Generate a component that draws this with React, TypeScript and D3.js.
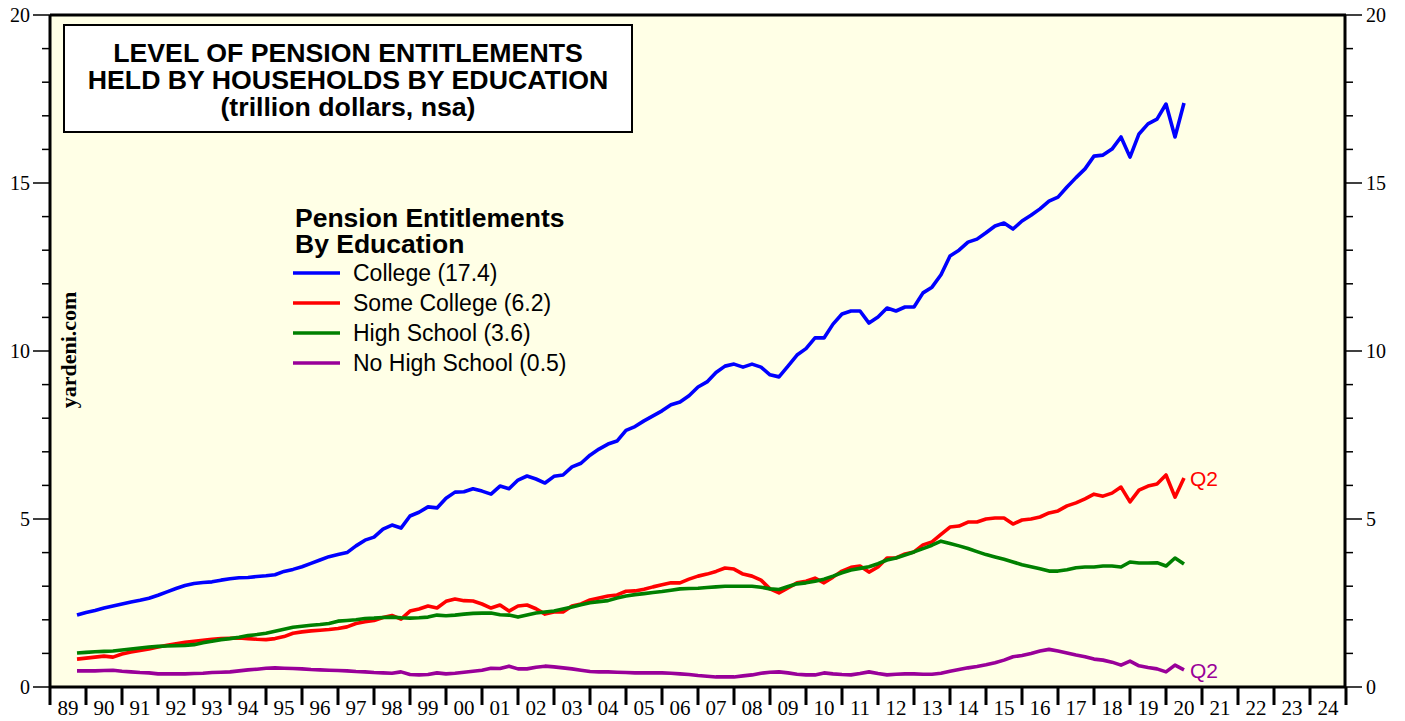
import React from "react";
import * as d3 from "d3";

const START_YEAR = 1989.75; // 1989 Q3 (end of quarter)
const college = [
  2.14, 2.22, 2.28, 2.35, 2.41, 2.47, 2.53, 2.58, 2.64, 2.73, 2.83, 2.93, 3.02, 3.08, 3.11, 3.13,
  3.18, 3.22, 3.25, 3.26, 3.29, 3.31, 3.34, 3.44, 3.5, 3.58, 3.68, 3.78, 3.88, 3.94, 4.0, 4.2,
  4.37, 4.46, 4.7, 4.82, 4.73, 5.09, 5.2, 5.36, 5.33, 5.62, 5.8, 5.81, 5.9, 5.83, 5.74, 5.98,
  5.9, 6.16, 6.28, 6.19, 6.07, 6.27, 6.31, 6.55, 6.66, 6.9, 7.08, 7.23, 7.32, 7.64, 7.75, 7.92,
  8.07, 8.22, 8.4, 8.48, 8.67, 8.93, 9.08, 9.36, 9.55, 9.61, 9.52, 9.61, 9.52, 9.29, 9.23, 9.55,
  9.88, 10.07, 10.39, 10.39, 10.8, 11.1, 11.19, 11.19, 10.83, 11.01, 11.28, 11.19, 11.31, 11.31, 11.73, 11.9,
  12.27, 12.83, 13.0, 13.24, 13.33, 13.52, 13.72, 13.81, 13.63, 13.87, 14.04, 14.23, 14.46, 14.58, 14.88, 15.16,
  15.42, 15.8, 15.83, 16.01, 16.37, 15.77, 16.46, 16.76, 16.9, 17.35, 16.37, 17.38,
];
const someCollege = [
  0.83, 0.86, 0.89, 0.92, 0.89, 0.98, 1.04, 1.09, 1.13, 1.19, 1.24, 1.29, 1.33, 1.36, 1.39, 1.42,
  1.44, 1.45, 1.46, 1.44, 1.42, 1.41, 1.44, 1.5, 1.6, 1.64, 1.67, 1.69, 1.71, 1.74, 1.79, 1.89,
  1.94, 1.98, 2.07, 2.13, 2.02, 2.26, 2.32, 2.41, 2.35, 2.55, 2.62, 2.57, 2.56, 2.47, 2.35, 2.44,
  2.26, 2.41, 2.44, 2.33, 2.17, 2.23, 2.23, 2.41, 2.47, 2.59, 2.65, 2.71, 2.74, 2.85, 2.86, 2.91,
  2.98, 3.04, 3.1, 3.1, 3.21, 3.3, 3.36, 3.44, 3.54, 3.51, 3.36, 3.3, 3.18, 2.92, 2.8, 2.95,
  3.1, 3.15, 3.24, 3.1, 3.27, 3.45, 3.56, 3.6, 3.42, 3.57, 3.84, 3.84, 3.96, 4.02, 4.23, 4.32,
  4.54, 4.76, 4.79, 4.91, 4.91, 5.0, 5.03, 5.03, 4.85, 4.97, 5.0, 5.06, 5.18, 5.24, 5.39, 5.48,
  5.6, 5.74, 5.68, 5.77, 5.95, 5.51, 5.86, 5.98, 6.04, 6.31, 5.65, 6.22,
];
const highSchool = [
  1.01, 1.03, 1.05, 1.06, 1.07, 1.1, 1.13, 1.16, 1.19, 1.21, 1.22, 1.23, 1.24, 1.26, 1.32, 1.36,
  1.41, 1.44, 1.48, 1.53, 1.56, 1.6, 1.66, 1.72, 1.78, 1.81, 1.84, 1.86, 1.89, 1.96, 1.98, 2.0,
  2.04, 2.05, 2.07, 2.08, 2.06, 2.05, 2.06, 2.08, 2.14, 2.12, 2.14, 2.17, 2.19, 2.2, 2.2, 2.15,
  2.14, 2.08, 2.14, 2.2, 2.23, 2.26, 2.32, 2.38, 2.45, 2.51, 2.54, 2.57, 2.65, 2.71, 2.75, 2.78,
  2.81, 2.84, 2.88, 2.92, 2.93, 2.94, 2.96, 2.98, 3.0, 3.0, 3.0, 3.0, 2.97, 2.92, 2.9, 2.99,
  3.07, 3.1, 3.15, 3.21, 3.3, 3.4, 3.48, 3.53, 3.58, 3.67, 3.78, 3.84, 3.93, 4.02, 4.12, 4.22,
  4.34, 4.27, 4.2, 4.12, 4.03, 3.94, 3.87, 3.8, 3.72, 3.64, 3.58, 3.52, 3.45, 3.45, 3.49, 3.55,
  3.57, 3.57, 3.6, 3.6, 3.57, 3.72, 3.69, 3.69, 3.7, 3.6, 3.84, 3.66,
];
const noHighSchool = [
  0.48, 0.48, 0.48, 0.49, 0.5, 0.47, 0.45, 0.43, 0.42, 0.39, 0.39, 0.39, 0.39, 0.4, 0.41, 0.43,
  0.44, 0.45, 0.48, 0.51, 0.53, 0.56, 0.57, 0.56, 0.55, 0.54, 0.52, 0.51, 0.5, 0.49, 0.48, 0.46,
  0.45, 0.43, 0.42, 0.41, 0.45, 0.37, 0.36, 0.37, 0.42, 0.39, 0.41, 0.44, 0.47, 0.5, 0.56, 0.55,
  0.62, 0.54, 0.54, 0.59, 0.62, 0.6, 0.57, 0.54, 0.5, 0.46, 0.45, 0.45, 0.44, 0.43, 0.42, 0.42,
  0.42, 0.42, 0.41, 0.39, 0.37, 0.34, 0.32, 0.3, 0.3, 0.3, 0.33, 0.36, 0.41, 0.44, 0.45, 0.42,
  0.38, 0.36, 0.36, 0.42, 0.39, 0.37, 0.36, 0.4, 0.45, 0.4, 0.36, 0.38, 0.39, 0.39, 0.38, 0.38,
  0.41, 0.47, 0.52, 0.57, 0.61, 0.66, 0.72, 0.8, 0.9, 0.94, 1.0, 1.07, 1.12, 1.07, 1.01, 0.95,
  0.9, 0.83, 0.8, 0.74, 0.65, 0.77, 0.63, 0.58, 0.54, 0.45, 0.65, 0.51,
];

const yearLabels = ["89","90","91","92","93","94","95","96","97","98","99","00","01","02","03","04","05","06","07","08","09","10","11","12","13","14","15","16","17","18","19","20","21","22","23","24"];
const yTicks = [0, 5, 10, 15, 20];
const seriesNames = ["College (17.4)", "Some College (6.2)", "High School (3.6)", "No High School (0.5)"];
const seriesColors = ["#0000ff", "#ff0000", "#008000", "#990099"];
const titleLines = ["LEVEL OF PENSION ENTITLEMENTS", "HELD BY HOUSEHOLDS BY EDUCATION", "(trillion dollars, nsa)"];
const legendTitle = ["Pension Entitlements", "By Education"];

const W = 1405, H = 721;
const L = 50, R = 1346, T = 15, B = 687;

export default function App() {
  const x = d3.scaleLinear().domain([1989, 2025]).range([L, R]);
  const y = d3.scaleLinear().domain([0, 20]).range([B, T]);
  const series = [college, someCollege, highSchool, noHighSchool];
  const line = d3
    .line<number>()
    .x((_, i) => x(START_YEAR + i * 0.25))
    .y((v) => y(v));
  const minor = d3.range(0, 21, 1);
  const years = d3.range(1989, 2026);
  const sans = "Liberation Sans, Arial, sans-serif";
  const serif = "Liberation Serif, Times New Roman, serif";

  const lastX = x(START_YEAR + (college.length - 1) * 0.25);

  return (
    <svg width={W} height={H} style={{ position: "absolute", left: 0, top: 0, background: "#fff" }}>
      <rect x={L} y={T} width={R - L} height={B - T} fill="#ffffe6" />

      {series.map((s, k) => (
        <path key={k} d={line(s) || ""} fill="none" stroke={seriesColors[k]} strokeWidth={3.6} strokeLinejoin="round" />
      ))}

      <line x1={L} x2={R} y1={T} y2={T} stroke="#000" strokeWidth={3} />
      <line x1={L} x2={R} y1={B} y2={B} stroke="#000" strokeWidth={3} />
      <line x1={L} x2={L} y1={T} y2={B} stroke="#000" strokeWidth={3} />
      <line x1={R - 1} x2={R - 1} y1={T} y2={B} stroke="#000" strokeWidth={3} />

      {minor.map((v) => (
        <g key={"m" + v}>
          <line x1={L - (v % 5 === 0 ? 17 : 8)} x2={L} y1={y(v)} y2={y(v)} stroke="#000" strokeWidth={1.5} />
          <line x1={R - 1} x2={R - 1 + (v % 5 === 0 ? 17 : 8)} y1={y(v)} y2={y(v)} stroke="#000" strokeWidth={1.5} />
        </g>
      ))}
      {yTicks.map((v) => (
        <g key={"t" + v} fontFamily={serif} fontSize={20} fill="#000">
          <text x={30} y={y(v) + 7} textAnchor="end">{v}</text>
          <text x={1366} y={y(v) + 7} textAnchor="start">{v}</text>
        </g>
      ))}

      {years.map((yr) => (
        <line key={"x" + yr} x1={x(yr)} x2={x(yr)} y1={B} y2={B + 18} stroke="#000" strokeWidth={3} />
      ))}
      {yearLabels.map((lab, i) => (
        <text key={"xl" + i} x={x(1989 + i + 0.5)} y={715} textAnchor="middle" fontFamily={serif} fontSize={21} fill="#000">
          {lab}
        </text>
      ))}

      <rect x={64} y={25} width={568} height={107} fill="#fff" stroke="#000" strokeWidth={2} />
      {titleLines.map((t, i) => (
        <text key={"tt" + i} x={348} y={62 + i * 27} textAnchor="middle" fontFamily={sans} fontWeight="bold" fontSize={26.7} fill="#000">
          {t}
        </text>
      ))}

      {legendTitle.map((t, i) => (
        <text key={"lt" + i} x={295} y={227 + i * 26} fontFamily={sans} fontWeight="bold" fontSize={26.5} fill="#000">
          {t}
        </text>
      ))}
      {seriesNames.map((n, i) => {
        const yy = 273 + i * 30;
        return (
          <g key={"lg" + i}>
            <line x1={293} x2={340} y1={yy} y2={yy} stroke={seriesColors[i]} strokeWidth={3.6} />
            <text x={353} y={yy + 8} fontFamily={sans} fontSize={23} fill="#000">
              {n}
            </text>
          </g>
        );
      })}

      <text
        transform="translate(76,350) rotate(-90)"
        textAnchor="middle"
        fontFamily={serif}
        fontWeight="bold"
        fontSize={22}
        fill="#000"
      >
        yardeni.com
      </text>

      <text x={lastX + 6} y={y(someCollege[someCollege.length - 1]) + 8} fontFamily={sans} fontSize={21} fill="#ff0000">
        Q2
      </text>
      <text x={lastX + 6} y={y(noHighSchool[noHighSchool.length - 1]) + 8} fontFamily={sans} fontSize={21} fill="#990099">
        Q2
      </text>
    </svg>
  );
}
